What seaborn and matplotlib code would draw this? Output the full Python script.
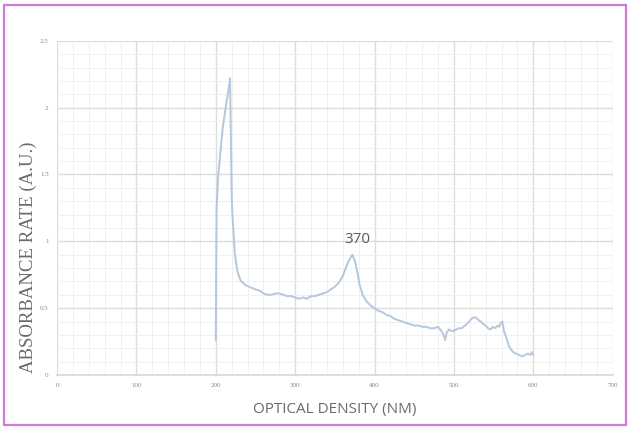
import matplotlib
matplotlib.use("Agg")
import matplotlib.pyplot as plt
import seaborn as sns
import pandas as pd
from matplotlib.patches import Rectangle
from matplotlib.ticker import MultipleLocator

wavelength = [200, 201, 203, 205, 207, 209, 212, 214, 216, 218, 219, 220, 221, 222, 223, 224,
              226, 228, 231, 234, 238, 242, 246, 250, 256, 260, 265, 270, 275, 280, 285, 290,
              295, 300, 305, 310, 315, 320, 325, 330, 335, 340, 345, 350, 355, 360, 365,
              368, 372, 375, 378, 381, 385, 390, 395, 400, 405, 410, 415, 420, 425, 430, 435,
              440, 445, 450, 455, 460, 465, 470, 475, 480, 484, 487, 489, 491, 494, 497,
              500, 503, 506, 510, 514, 518, 522, 525, 528, 531, 534, 537, 540, 543, 546,
              549, 552, 555, 557, 559, 561, 563, 566, 569, 572, 575, 578, 582, 586, 590,
              593, 596, 598, 600]
absorbance = [0.26, 1.25, 1.48, 1.61, 1.74, 1.86, 1.98, 2.06, 2.13, 2.22, 1.80, 1.36, 1.20,
              1.10, 1.00, 0.91, 0.82, 0.76, 0.71, 0.69, 0.67, 0.66, 0.65, 0.64, 0.63, 0.61,
              0.60, 0.60, 0.61, 0.61, 0.60, 0.59, 0.59, 0.58, 0.57, 0.58, 0.57, 0.59, 0.59,
              0.60, 0.61, 0.62, 0.64, 0.66, 0.69, 0.74, 0.82, 0.86, 0.90, 0.86, 0.78, 0.68,
              0.60, 0.55, 0.52, 0.50, 0.48, 0.47, 0.45, 0.44, 0.42, 0.41, 0.40, 0.39, 0.38,
              0.37, 0.37, 0.36, 0.36, 0.35, 0.35, 0.36, 0.33, 0.30, 0.26, 0.32, 0.34, 0.33,
              0.33, 0.34, 0.35, 0.35, 0.37, 0.39, 0.42, 0.43, 0.43, 0.41, 0.40, 0.38, 0.37,
              0.35, 0.34, 0.36, 0.35, 0.37, 0.36, 0.39, 0.40, 0.33, 0.28, 0.22, 0.19, 0.17,
              0.16, 0.15, 0.14, 0.15, 0.16, 0.15, 0.17, 0.15]
x_ticks = [0, 100, 200, 300, 400, 500, 600, 700]
y_ticks = [0, 0.5, 1, 1.5, 2, 2.5]
y_tick_labels = ["0", "0.5", "1", "1.5", "2", "2.5"]
peak_label = "370"

df = pd.DataFrame({"wavelength": wavelength, "absorbance": absorbance})

sns.set_theme(style="white")
fig = plt.figure(figsize=(6.3, 4.3), dpi=100)
fig.patch.set_facecolor("white")
fig.patches.append(Rectangle((0.006, 0.012), 0.988, 0.976, transform=fig.transFigure,
                             fill=False, edgecolor="#d27ad6", linewidth=1.6))

ax = fig.add_axes([0.0905, 0.128, 0.882, 0.777])
sns.lineplot(data=df, x="wavelength", y="absorbance", ax=ax, color="#b7c7db",
             linewidth=1.4, sort=False)

ax.set_xlim(0, 700)
ax.set_ylim(0, 2.5)
ax.set_xticks(x_ticks)
ax.set_yticks(y_ticks)
ax.set_yticklabels(y_tick_labels)
ax.xaxis.set_minor_locator(MultipleLocator(20))
ax.yaxis.set_minor_locator(MultipleLocator(0.1))
ax.grid(which="major", color="#dcdcdc", linewidth=1.0)
ax.grid(which="minor", color="#f0f0f0", linewidth=0.7)
ax.set_axisbelow(True)
for s in ax.spines.values():
    s.set_visible(False)
ax.spines["bottom"].set_visible(True)
ax.spines["bottom"].set_color("#d9d9d9")
ax.tick_params(which="both", length=0, labelsize=5, colors="#8a8a8a", pad=6)
for lab in ax.get_xticklabels() + ax.get_yticklabels():
    lab.set_fontfamily("Liberation Serif")

ax.set_xlabel("OPTICAL DENSITY (NM)", fontsize=11, color="#6a6a6a",
              fontfamily="Open Sans", labelpad=10)
ax.set_ylabel("ABSORBANCE RATE (A.U.)", fontsize=13.5, color="#6a6a6a",
              fontfamily="Liberation Serif")
ax.yaxis.set_label_coords(-0.036, 0.353)
ax.text(378, 0.96, peak_label, ha="center", va="bottom", fontsize=11,
        color="#5a5a5a", fontfamily="Open Sans")

fig.savefig("out.png", dpi=100, facecolor="white")
